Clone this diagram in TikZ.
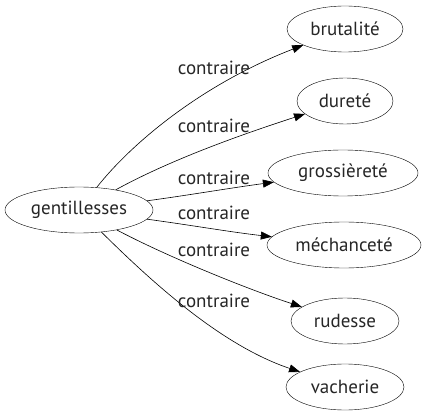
\documentclass[tikz,border=0pt]{standalone}
\usepackage{fontspec}
\setmainfont{PT Sans}
\usetikzlibrary{shapes.geometric,arrows.meta}
\begin{document}
\begin{tikzpicture}[x=1pt,y=-1pt,
  word/.style={draw, ellipse, inner sep=0pt, minimum height=46pt, font=\fontsize{19}{22}\selectfont, text=black!85},
  rel/.style={font=\fontsize{19}{22}\selectfont, text=black!85, inner sep=0pt},
  edge/.style={-{Triangle[length=11pt,width=8pt]}, line width=0.6pt}]
\useasboundingbox (0,0) rectangle (428,419);
\node[word, minimum width=148pt] (g) at (79,210) {gentillesses};
\node[word, minimum width=116pt] (b) at (345,29) {brutalité};
\node[word, minimum width=96pt] (d) at (345,101) {dureté};
\node[word, minimum width=150pt] (gr) at (343,173) {grossièreté};
\node[word, minimum width=154pt] (m) at (344,245) {méchanceté};
\node[word, minimum width=108pt] (r) at (345,321) {rudesse};
\node[word, minimum width=118pt] (v) at (345,387) {vacherie};
\draw[edge] (g) .. controls (130,145) and (200,85) .. (b);
\draw[edge] (g) .. controls (170,160) and (240,135) .. (d);
\draw[edge] (g) .. controls (190,195) and (230,188) .. (gr);
\draw[edge] (g) .. controls (190,225) and (230,232) .. (m);
\draw[edge] (g) .. controls (170,258) and (250,290) .. (r);
\draw[edge] (g) .. controls (150,280) and (220,345) .. (v);
\node[rel] (l1) at (214,68) {contraire};
\node[rel] (l2) at (214,126) {contraire};
\node[rel] (l3) at (214,178) {contraire};
\node[rel] (l4) at (214,213) {contraire};
\node[rel] (l5) at (214,250) {contraire};
\node[rel] (l6) at (214,301) {contraire};
\end{tikzpicture}
\end{document}
